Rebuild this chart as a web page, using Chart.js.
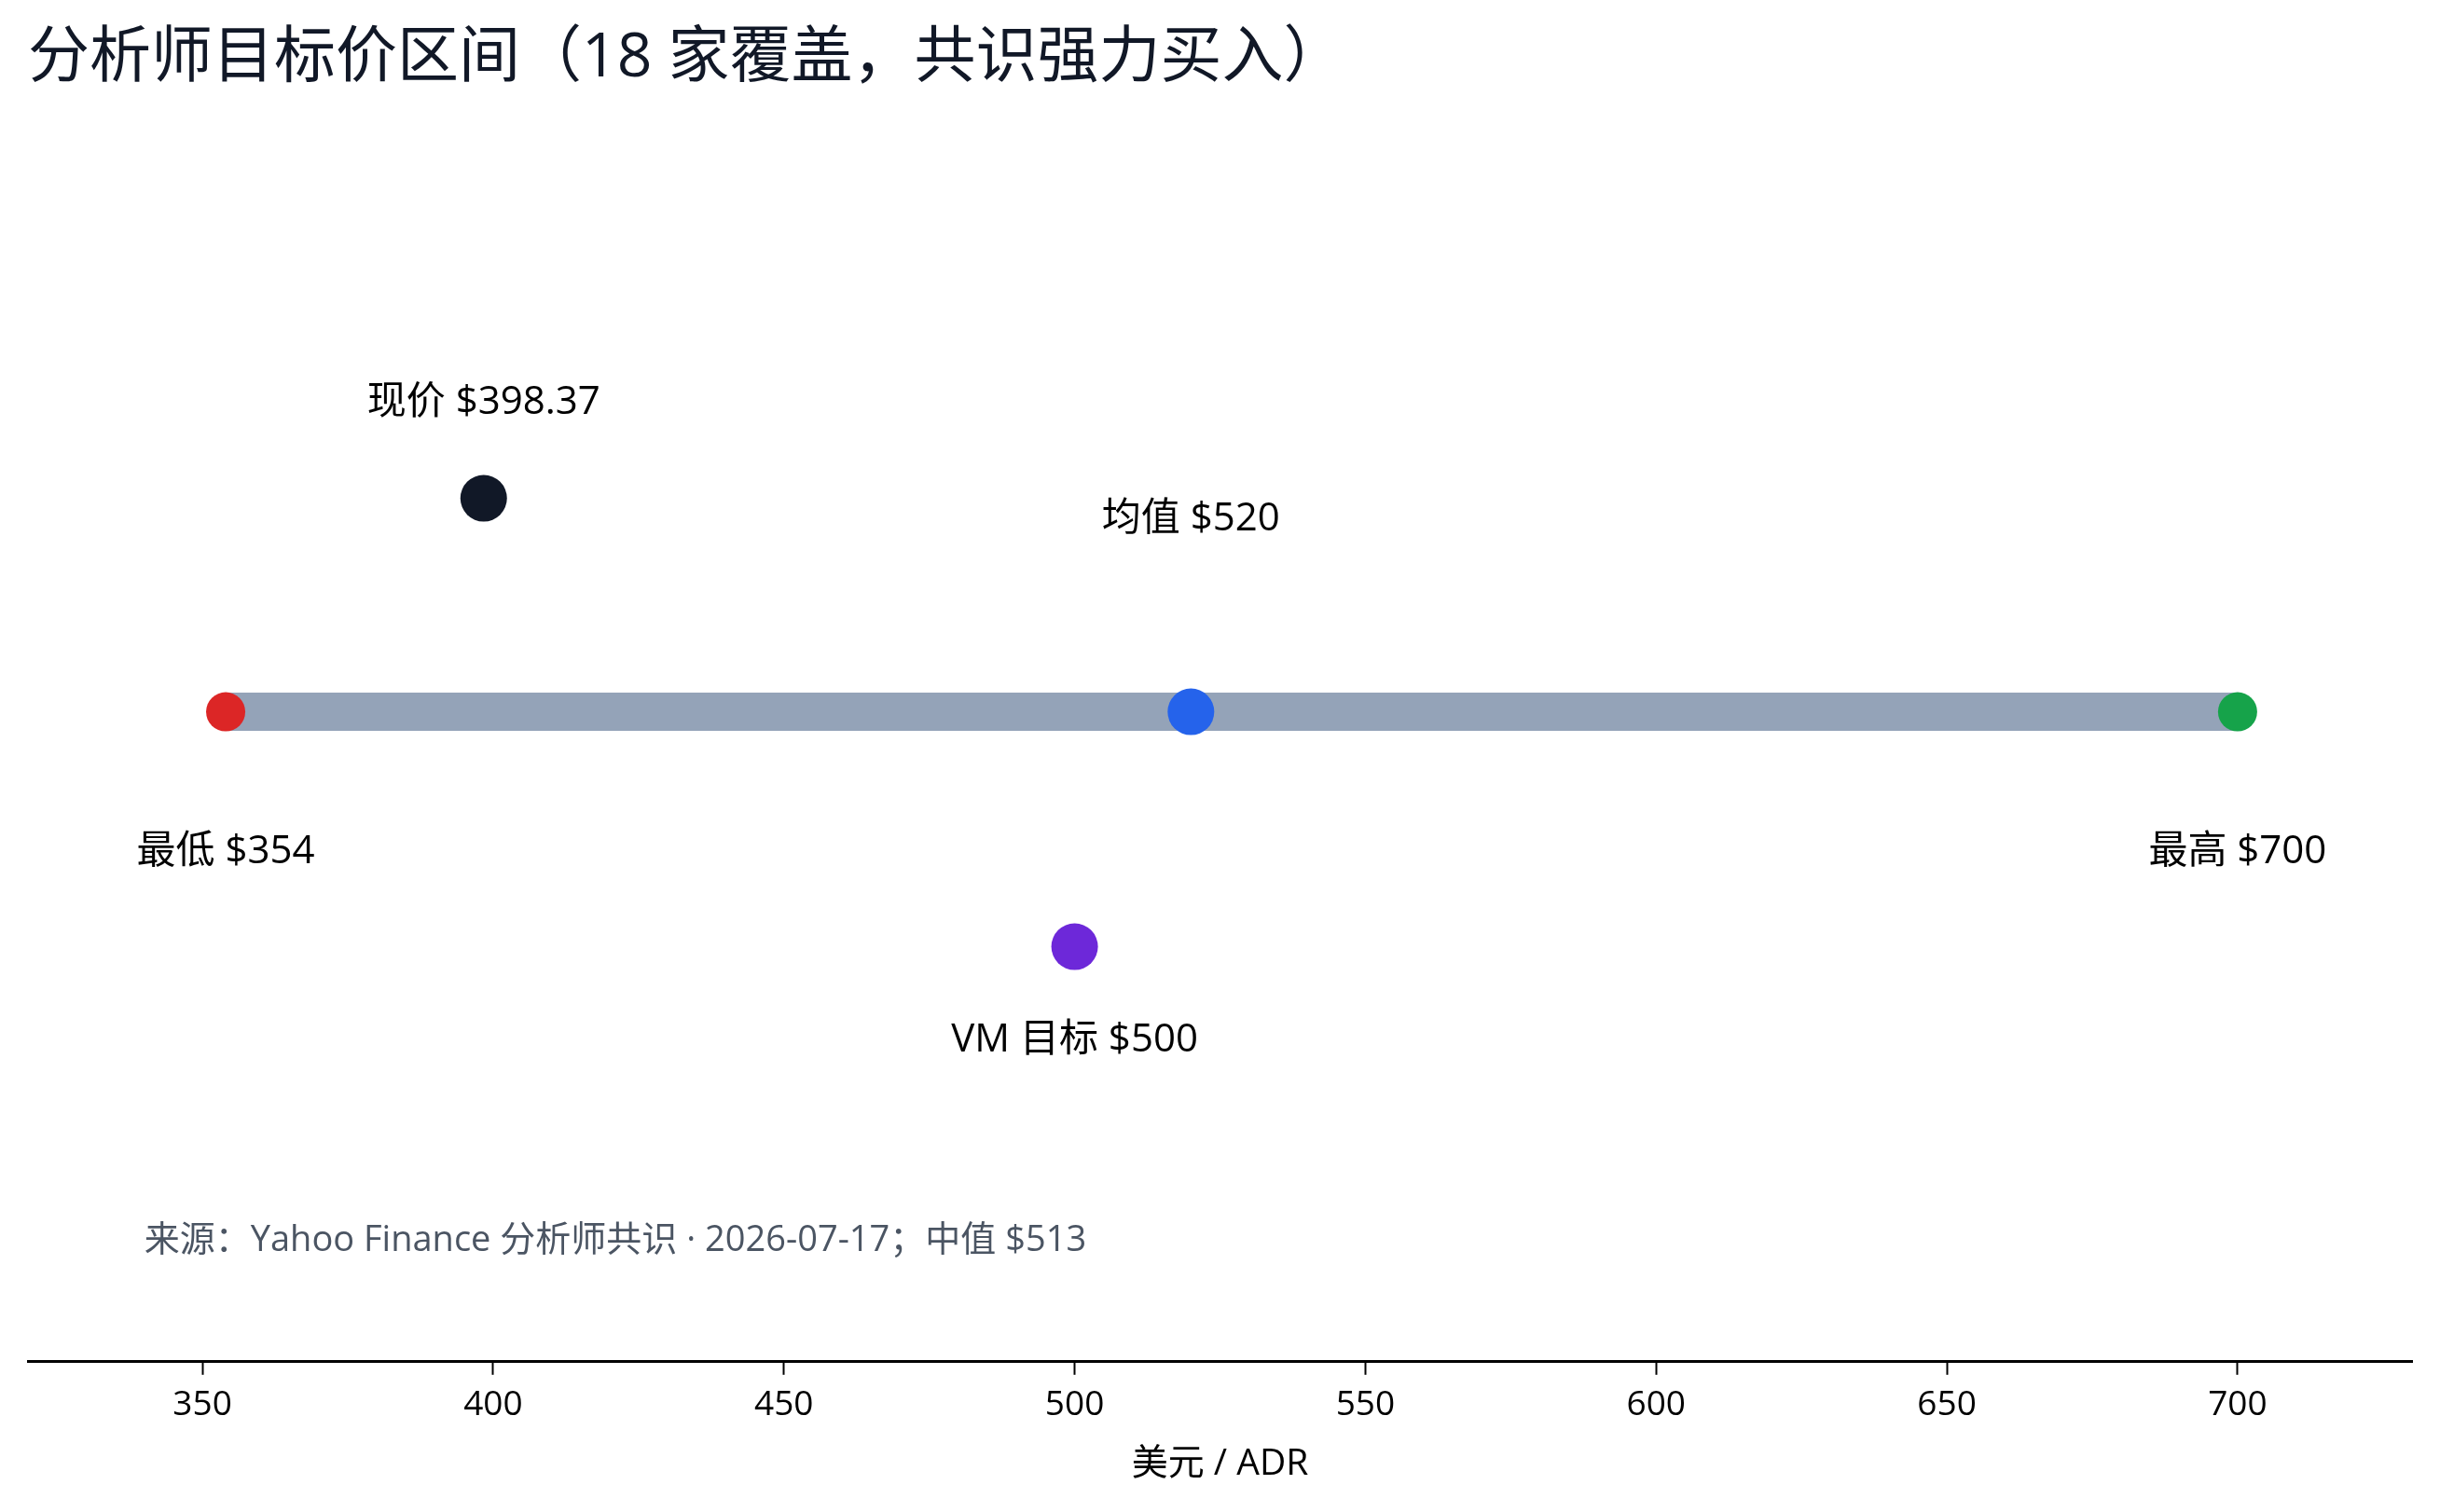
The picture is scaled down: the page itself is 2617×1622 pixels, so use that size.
<!DOCTYPE html>
<html>
<head>
<meta charset="utf-8">
<script src="https://cdn.jsdelivr.net/npm/chart.js@4"></script>
<style>
  html, body { margin: 0; padding: 0; background: #ffffff; }
  #wrap { width: 2617px; height: 1622px; }
</style>
</head>
<body>
<div id="wrap"><canvas id="c" width="2617" height="1622"></canvas></div>
<script>
// ---- data ----
const pointNames  = ['最低', '均值', '最高', '现价', 'VM 目标'];
const pointValues = [354, 520, 700, 398.37, 500];
const pointRows   = [0, 0, 0, 1, -1.1];
const rangeValues = [354, 700];
const rangeRows   = [0, 0];
const tickValues  = [350, 400, 450, 500, 550, 600, 650, 700];
const medianValue = 513;
const sourceText  = '来源：Yahoo Finance 分析师共识 · 2026-07-17；中值 $' + medianValue;
const sourcePos   = [340, -2.48];
const titleText   = '分析师目标价区间（18 家覆盖，共识强力买入）';
const xTitle      = '美元 / ADR';

// ---- styles ----
const FONT = '"Open Sans", "Noto Sans CJK SC", sans-serif';
const pointColors = ['#dc2626', '#2563eb', '#16a34a', '#111827', '#6d28d9'];
const pointRadii  = [21, 25, 21, 25, 25];
// label offsets in px (negative = above)
const labelOffsets = [150, -207, 150, -103, 100];

const labelPlugin = {
  id: 'labels',
  afterDatasetsDraw(chart) {
    const { ctx, scales: { x, y } } = chart;
    ctx.save();
    ctx.font = '42px ' + FONT;
    ctx.fillStyle = '#000000';
    ctx.textAlign = 'center';
    ctx.textBaseline = 'middle';
    pointValues.forEach((v, i) => {
      const px = x.getPixelForValue(v);
      const py = y.getPixelForValue(pointRows[i]) + labelOffsets[i];
      ctx.fillText(pointNames[i] + ' $' + v, px, py);
    });
    ctx.font = '38px ' + FONT;
    ctx.fillStyle = '#4b5563';
    ctx.textAlign = 'left';
    ctx.fillText(sourceText, x.getPixelForValue(sourcePos[0]), y.getPixelForValue(sourcePos[1]));
    ctx.restore();
  }
};

new Chart(document.getElementById('c'), {
  type: 'scatter',
  data: {
    datasets: [
      {
        type: 'line',
        data: rangeValues.map((v, i) => ({ x: v, y: rangeRows[i] })),
        borderColor: '#94a3b8',
        borderWidth: 41,
        borderCapStyle: 'butt',
        pointRadius: 0,
        order: 2
      },
      {
        data: pointValues.map((v, i) => ({ x: v, y: pointRows[i] })),
        backgroundColor: pointColors,
        borderWidth: 0,
        pointRadius: pointRadii,
        pointHoverRadius: pointRadii,
        order: 1
      }
    ]
  },
  options: {
    responsive: false,
    devicePixelRatio: 1,
    animation: false,
    events: [],
    layout: { padding: { left: 30, right: 30, top: 0, bottom: 28 } },
    plugins: {
      legend: { display: false },
      tooltip: { enabled: false },
      title: {
        display: true,
        text: titleText,
        align: 'start',
        color: '#111827',
        font: { family: FONT, size: 66, weight: 'normal' },
        padding: { top: 24, bottom: 28 }
      }
    },
    scales: {
      x: {
        type: 'linear',
        min: 320,
        max: 730,
        afterBuildTicks(scale) { scale.ticks = tickValues.map(v => ({ value: v })); },
        grid: { display: true, drawOnChartArea: false, drawTicks: true, tickLength: 14, tickColor: '#000000', tickWidth: 2 },
        border: { display: true, color: '#000000', width: 3 },
        ticks: { color: '#000000', font: { family: FONT, size: 37 }, padding: 10 },
        title: { display: true, text: xTitle, color: '#000000', font: { family: FONT, size: 39 }, padding: { top: 8, bottom: 0 } }
      },
      y: {
        type: 'linear',
        display: false,
        min: -3.044,
        max: 2.761
      }
    }
  },
  plugins: [labelPlugin]
});
</script>
</body>
</html>
